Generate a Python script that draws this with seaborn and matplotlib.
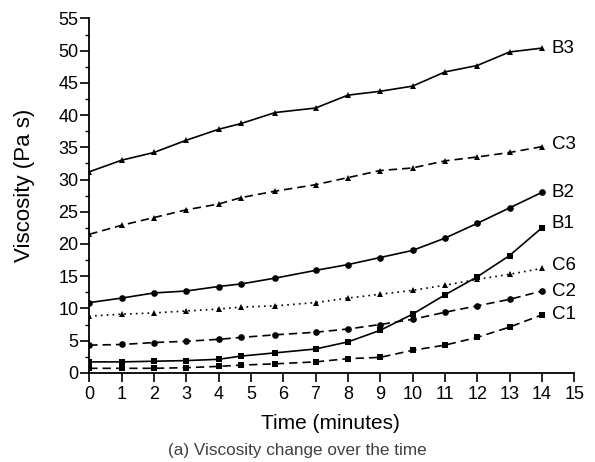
import matplotlib
matplotlib.use("Agg")
import matplotlib.pyplot as plt
import seaborn as sns
import pandas as pd
from matplotlib.ticker import MultipleLocator

time = [0, 1, 2, 3, 4, 4.7, 5.75, 7, 8, 9, 10, 11, 12, 13, 14]
B3 = [31.2, 33.0, 34.2, 36.1, 37.8, 38.7, 40.4, 41.1, 43.1, 43.7, 44.5, 46.7, 47.7, 49.8, 50.4]
C3 = [21.5, 22.9, 24.1, 25.3, 26.2, 27.2, 28.2, 29.2, 30.3, 31.4, 31.8, 32.9, 33.5, 34.2, 35.1]
B2 = [10.9, 11.6, 12.4, 12.7, 13.4, 13.8, 14.7, 15.9, 16.8, 17.9, 19.0, 20.9, 23.2, 25.6, 28.0]
B1 = [1.7, 1.7, 1.8, 1.9, 2.1, 2.6, 3.1, 3.7, 4.8, 6.6, 9.1, 12.1, 14.9, 18.2, 22.5]
C6 = [8.8, 9.1, 9.3, 9.6, 9.9, 10.2, 10.4, 10.9, 11.6, 12.2, 12.8, 13.6, 14.5, 15.3, 16.2]
C2 = [4.3, 4.4, 4.7, 4.9, 5.2, 5.5, 5.9, 6.3, 6.8, 7.5, 8.3, 9.4, 10.4, 11.4, 12.7]
C1 = [0.7, 0.7, 0.7, 0.8, 1.0, 1.2, 1.4, 1.7, 2.2, 2.4, 3.5, 4.3, 5.5, 7.1, 9.0]

series = {"B3": B3, "C3": C3, "B2": B2, "B1": B1, "C6": C6, "C2": C2, "C1": C1}
styles = {
    "B3": ("-", "^"), "C3": ((0, (5, 3)), "^"), "B2": ("-", "o"),
    "B1": ("-", "s"), "C6": ((0, (1, 2.5)), "^"), "C2": ((0, (5, 3)), "o"),
    "C1": ((0, (5, 3)), "s"),
}
label_dy = {"B3": 0.0, "C3": 0.3, "B2": 0.0, "B1": 0.7, "C6": 0.4, "C2": 0.0, "C1": 0.0}

df = pd.concat(
    [pd.DataFrame({"Time": time, "Viscosity": v, "Sample": k}) for k, v in series.items()],
    ignore_index=True,
)

sns.set_style("ticks")
plt.rcParams["font.family"] = ["Liberation Sans", "DejaVu Sans"]
plt.rcParams.update({"text.color": "black", "axes.labelcolor": "black",
                     "xtick.color": "black", "ytick.color": "black"})

fig = plt.figure(figsize=(5.95, 4.62), dpi=100)
ax = fig.add_axes([0.150, 0.193, 0.815, 0.767])

for name in series:
    ls, mk = styles[name]
    sub = df[df["Sample"] == name]
    sns.lineplot(data=sub, x="Time", y="Viscosity", ax=ax, color="black",
                 linestyle=ls, marker=mk, markersize=4.8, markeredgewidth=0,
                 linewidth=1.2, legend=False)
    ax.text(14.3, sub["Viscosity"].iloc[-1] + label_dy[name], name,
            ha="left", va="center", fontsize=13.5, color="black")

ax.set_xlim(0, 15)
ax.set_ylim(0, 55)
ax.xaxis.set_major_locator(MultipleLocator(1))
ax.yaxis.set_major_locator(MultipleLocator(5))
ax.yaxis.set_minor_locator(MultipleLocator(2.5))
ax.tick_params(axis="both", which="major", direction="out", length=6.3, width=1.2,
               labelsize=13)
ax.tick_params(axis="x", which="major", pad=3)
ax.tick_params(axis="y", which="major", pad=1.5)
ax.tick_params(axis="y", which="minor", direction="out", length=3.2, width=1.0)
for s in ["top", "right"]:
    ax.spines[s].set_visible(False)
for s in ["left", "bottom"]:
    ax.spines[s].set_linewidth(1.3)
    ax.spines[s].set_color("black")

ax.set_xlabel("Time (minutes)", fontsize=15)
ax.set_ylabel("Viscosity (Pa s)", fontsize=16)
ax.xaxis.set_label_coords(0.498, -0.117)
ax.yaxis.set_label_coords(-0.112, 0.53)
fig.text(0.50, 0.041, "(a) Viscosity change over the time", ha="center", va="top",
         fontsize=12.3, color="#404040")

fig.savefig("out.png", dpi=100)
